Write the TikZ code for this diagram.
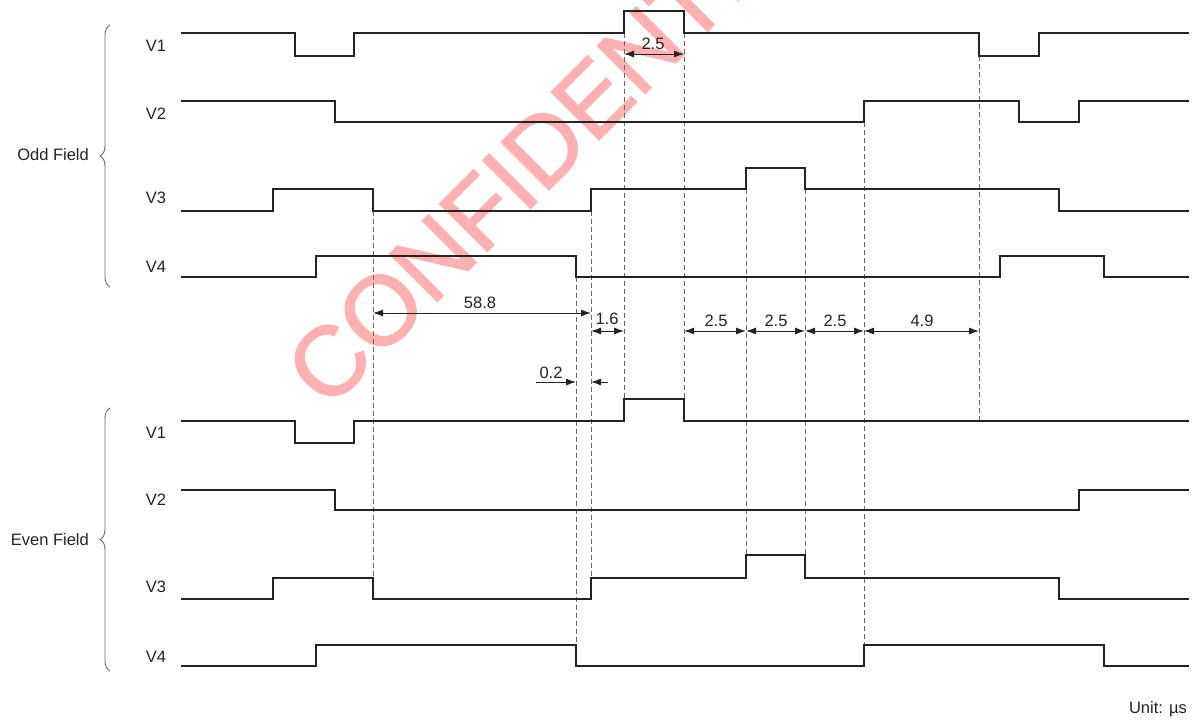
\documentclass[tikz,border=0pt]{standalone}
\usepackage{fontspec}
\setmainfont{Liberation Sans}
\newfontfamily\wmfont{Liberation Sans}[FakeBold=1.6]
\usetikzlibrary{arrows.meta,decorations.pathreplacing}
\definecolor{wmcol}{RGB}{255,176,176}
\definecolor{ink}{RGB}{35,35,35}
\begin{document}
\begin{tikzpicture}[x=1pt,y=-1pt,
  wave/.style={line width=1.6pt, ink, line join=miter},
  guide/.style={line width=0.9pt, black!60, dash pattern=on 5pt off 3pt},
  dimarrow/.style={line width=0.9pt, ink, {Latex[length=10pt,width=7pt]}-{Latex[length=10pt,width=7pt]}},
  onearrow/.style={line width=0.9pt, ink, -{Latex[length=10pt,width=7pt]}},
  lbl/.style={font=\fontsize{16.5}{18}\selectfont, inner sep=0pt, text=ink},
  fieldbrace/.style={line width=0.9pt, black!60, decorate, decoration={brace, amplitude=10pt}},
  ]
\useasboundingbox (0,0) rectangle (1200,722);
% watermark
\node[rotate=45, text=wmcol, font=\wmfont\fontsize{98}{100}\selectfont, inner sep=0pt] (wm) at (558,133) {CONFIDENTIAL};

% guide lines
\draw[guide] (373,211) -- (373,578);
\draw[guide] (576,277) -- (576,645);
\draw[guide] (591,211) -- (591,578);
\draw[guide] (624,33) -- (624,399);
\draw[guide] (684,33) -- (684,399);
\draw[guide] (746,189) -- (746,555);
\draw[guide] (805,189) -- (805,555);
\draw[guide] (864,122) -- (864,645);
\draw[guide] (979,56) -- (979,421);

% odd field waveforms
\draw[wave] (181,33) -- (295,33) -- (295,56) -- (354,56) -- (354,33) -- (624,33) -- (624,11) -- (684,11) -- (684,33) -- (979,33) -- (979,56) -- (1039,56) -- (1039,33) -- (1189,33);
\draw[wave] (181,101) -- (335,101) -- (335,122) -- (864,122) -- (864,101) -- (1019,101) -- (1019,122) -- (1079,122) -- (1079,101) -- (1189,101);
\draw[wave] (181,211) -- (273,211) -- (273,189) -- (373,189) -- (373,211) -- (591,211) -- (591,189) -- (746,189) -- (746,168) -- (805,168) -- (805,189) -- (1059,189) -- (1059,211) -- (1189,211);
\draw[wave] (181,277) -- (316,277) -- (316,256) -- (576,256) -- (576,277) -- (1000,277) -- (1000,256) -- (1104,256) -- (1104,277) -- (1189,277);

% even field waveforms
\draw[wave] (181,421) -- (295,421) -- (295,443) -- (354,443) -- (354,421) -- (624,421) -- (624,399) -- (684,399) -- (684,421) -- (1189,421);
\draw[wave] (181,490) -- (335,490) -- (335,510) -- (1079,510) -- (1079,490) -- (1189,490);
\draw[wave] (181,599) -- (273,599) -- (273,578) -- (373,578) -- (373,599) -- (591,599) -- (591,578) -- (746,578) -- (746,555) -- (805,555) -- (805,578) -- (1059,578) -- (1059,599) -- (1189,599);
\draw[wave] (181,666) -- (316,666) -- (316,645) -- (576,645) -- (576,666) -- (864,666) -- (864,645) -- (1104,645) -- (1104,666) -- (1189,666);

% signal labels
\node[lbl] (ov1) at (156,46) {V1};
\node[lbl] (ov2) at (156,114) {V2};
\node[lbl] (ov3) at (156,198) {V3};
\node[lbl] (ov4) at (156,267) {V4};
\node[lbl] (ev1) at (156,433) {V1};
\node[lbl] (ev2) at (156,500) {V2};
\node[lbl] (ev3) at (156,587) {V3};
\node[lbl] (ev4) at (156,657) {V4};

% braces and field labels
\draw[fieldbrace] (110,287) -- (110,25);
\draw[fieldbrace] (110,671) -- (110,408);
\node[lbl, anchor=east] (odd) at (89,155) {Odd Field};
\node[lbl, anchor=east] (even) at (89,540) {Even Field};

% dimensions
\coordinate (a1) at (624,54); \coordinate (a2) at (684,54);
\draw[dimarrow] (a1) -- (a2);
\node[lbl] (d25a) at (653,44) {2.5};

\coordinate (b1) at (373,313); \coordinate (b2) at (591,313);
\draw[dimarrow] (b1) -- (b2);
\node[lbl] (d588) at (480,303) {58.8};

\coordinate (c1) at (591,331); \coordinate (c2) at (624,331);
\coordinate (c3) at (684,331); \coordinate (c4) at (746,331);
\coordinate (c5) at (805,331); \coordinate (c6) at (864,331);
\coordinate (c7) at (979,331);
\draw[dimarrow] (c1) -- (c2);
\draw[dimarrow] (c3) -- (c4);
\draw[dimarrow] (c4) -- (c5);
\draw[dimarrow] (c5) -- (c6);
\draw[dimarrow] (c6) -- (c7);
\node[lbl] (d16) at (607,319) {1.6};
\node[lbl] (d25b) at (716,321) {2.5};
\node[lbl] (d25c) at (776,321) {2.5};
\node[lbl] (d25d) at (835,321) {2.5};
\node[lbl] (d49) at (922,321) {4.9};

\coordinate (e0) at (536,382); \coordinate (e1) at (576,382);
\coordinate (e2) at (591,382); \coordinate (e3) at (608,382);
\draw[onearrow] (e0) -- (e1);
\draw[onearrow] (e3) -- (e2);
\node[lbl] (d02) at (551,373) {0.2};

\node[lbl, anchor=east] (unit) at (1187,709) {Unit: µs};
\end{tikzpicture}
\end{document}
